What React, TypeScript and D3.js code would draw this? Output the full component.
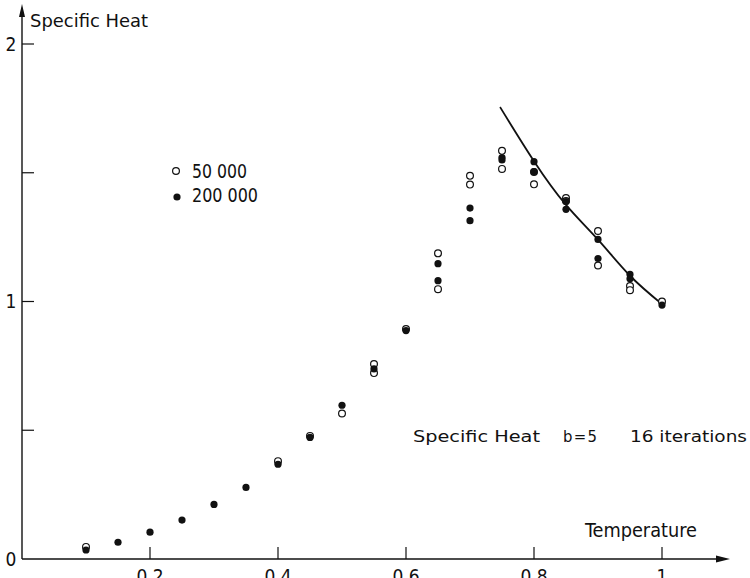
import * as d3 from 'd3';

// 50 000 sweeps (open circles)
const openTemp = [0.1, 0.4, 0.45, 0.5, 0.55, 0.55, 0.6, 0.65, 0.65, 0.7, 0.7, 0.75, 0.75, 0.8, 0.8, 0.85, 0.85, 0.9, 0.9, 0.95, 0.95, 1.0];
const openHeat = [0.047, 0.38, 0.478, 0.565, 0.757, 0.722, 0.893, 1.187, 1.048, 1.488, 1.454, 1.585, 1.515, 1.503, 1.455, 1.402, 1.39, 1.274, 1.14, 1.06, 1.044, 1.0];

// 200 000 sweeps (filled circles)
const filledTemp = [0.1, 0.15, 0.2, 0.25, 0.3, 0.35, 0.4, 0.45, 0.5, 0.55, 0.6, 0.65, 0.65, 0.7, 0.7, 0.75, 0.75, 0.8, 0.8, 0.85, 0.85, 0.9, 0.9, 0.95, 0.95, 1.0];
const filledHeat = [0.035, 0.065, 0.104, 0.151, 0.212, 0.278, 0.368, 0.472, 0.597, 0.738, 0.887, 1.147, 1.081, 1.363, 1.314, 1.559, 1.55, 1.543, 1.504, 1.388, 1.358, 1.241, 1.167, 1.105, 1.088, 0.986];

// fitted curve
const curveTemp = [0.747, 0.8, 0.85, 0.9, 0.95, 1.0];
const curveHeat = [1.755, 1.545, 1.375, 1.24, 1.1, 0.99];

const xTicks = [0.2, 0.4, 0.6, 0.8, 1];
const xTickLabels = ['0.2', '0.4', '0.6', '0.8', '1'];
const yTicks = [0, 0.5, 1, 1.5, 2];
const yTickLabels = ['0', '', '1', '', '2'];

const font = '"DejaVu Sans Condensed", "DejaVu Sans", sans-serif';

export default function App() {
  const width = 750;
  const height = 578;
  const x = d3.scaleLinear().domain([0, 1]).range([22, 662]);
  const y = d3.scaleLinear().domain([0, 2]).range([559, 44]);

  const line = d3.line<number>()
    .x((d, i) => x(curveTemp[i]))
    .y(d => y(d))
    .curve(d3.curveNatural);

  const x0 = x(0);
  const y0 = y(0);

  return (
    <svg width={width} height={height} style={{ position: 'absolute', left: 0, top: 0, background: '#fff' }}>
      {/* axes */}
      <line x1={x0} x2={722} y1={y0} y2={y0} stroke="#111" strokeWidth={1.4} />
      <path d={`M${730},${y0} L${716},${y0 - 3.5} L${716},${y0 + 3.5} Z`} fill="#111" />
      <line x1={x0} x2={x0} y1={y0} y2={14} stroke="#111" strokeWidth={1.4} />
      <path d={`M${x0},4 L${x0 - 3},17 L${x0 + 3},17 Z`} fill="#111" />

      {xTicks.map((t, i) => (
        <g key={'xt' + i}>
          <line x1={x(t)} x2={x(t)} y1={y0} y2={y0 - 12} stroke="#111" strokeWidth={1.2} />
          <text x={x(t)} y={583} textAnchor="middle" fontFamily={font} fontSize={19} fill="#111">{xTickLabels[i]}</text>
        </g>
      ))}
      {yTicks.map((t, i) => (
        <g key={'yt' + i}>
          {t > 0 && <line x1={x0} x2={x0 + 12} y1={y(t)} y2={y(t)} stroke="#111" strokeWidth={1.2} />}
          {yTickLabels[i] && (
            <text x={11} y={y(t)} dy="0.36em" textAnchor="middle" fontFamily={font} fontSize={19} fill="#111">{yTickLabels[i]}</text>
          )}
        </g>
      ))}

      <text x={30} y={27} fontFamily={font} fontSize={17} textLength={118} lengthAdjust="spacingAndGlyphs" fill="#111">Specific Heat</text>
      <text x={585} y={537} fontFamily={font} fontSize={19} textLength={112} lengthAdjust="spacingAndGlyphs" fill="#111">Temperature</text>

      <g fontFamily={font} fontSize={16.5} fill="#111">
        <text x={413} y={442} textLength={127} lengthAdjust="spacingAndGlyphs">Specific Heat</text>
        <text x={563} y={442}>b</text>
        <text x={580} y={442} textAnchor="middle">=</text>
        <text x={597} y={442} textAnchor="end">5</text>
        <text x={630} y={442} textLength={117} lengthAdjust="spacingAndGlyphs">16 iterations</text>
      </g>

      {/* legend */}
      <circle cx={176} cy={171} r={3.4} fill="#fff" stroke="#111" strokeWidth={1.2} />
      <text x={192} y={178} fontFamily={font} fontSize={20} textLength={55} lengthAdjust="spacingAndGlyphs" fill="#111">50 000</text>
      <circle cx={177} cy={197} r={3.6} fill="#111" />
      <text x={192} y={202} fontFamily={font} fontSize={20} textLength={66} lengthAdjust="spacingAndGlyphs" fill="#111">200 000</text>

      {/* fitted curve */}
      <path d={line(curveHeat) || ''} fill="none" stroke="#111" strokeWidth={1.8} />

      {/* data */}
      {openTemp.map((t, i) => (
        <circle key={'o' + i} cx={x(t)} cy={y(openHeat[i])} r={3.4} fill="#fff" stroke="#111" strokeWidth={1.2} />
      ))}
      {filledTemp.map((t, i) => (
        <circle key={'f' + i} cx={x(t)} cy={y(filledHeat[i])} r={3.6} fill="#111" />
      ))}
    </svg>
  );
}
